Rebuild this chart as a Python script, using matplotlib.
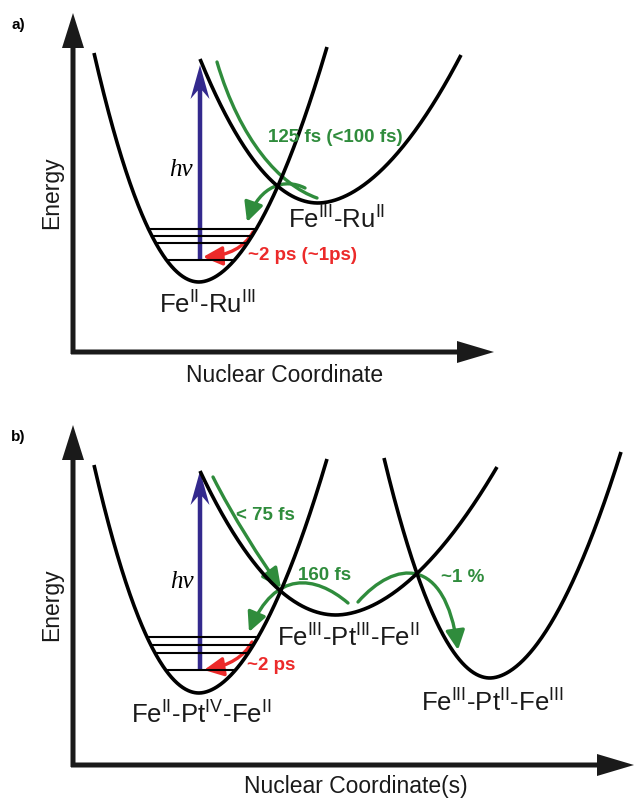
import numpy as np
import matplotlib
matplotlib.use("Agg")
import matplotlib.pyplot as plt
from matplotlib.path import Path
from matplotlib.patches import FancyArrowPatch

plt.rcParams['font.family'] = ['Liberation Sans', 'DejaVu Sans']
plt.rcParams['mathtext.fontset'] = 'custom'
plt.rcParams['mathtext.rm'] = 'Liberation Sans'
plt.rcParams['mathtext.it'] = 'Liberation Sans:italic'
plt.rcParams['mathtext.bf'] = 'Liberation Sans:bold'

GREEN = '#2f8c3c'
RED = '#ec2a2a'
BLUE = '#33298d'

# potential wells (pixel coords): vertex, left top end, right top end
wells_a_vertex = [(199, 282), (318, 203)]
wells_a_left = [(94, 53), (200, 59)]
wells_a_right = [(327, 47), (461, 55)]
levels_a = [229, 236, 243, 260]

wells_b_vertex = [(199, 693), (336, 615), (490, 678)]
wells_b_left = [(94, 465), (200, 471), (384, 458)]
wells_b_right = [(327, 459), (497, 467), (621, 452)]
levels_b = [637, 645, 653, 670]

# state labels
labels_a = [r'Fe$^{\mathrm{II}}$-Ru$^{\mathrm{III}}$', r'Fe$^{\mathrm{III}}$-Ru$^{\mathrm{II}}$']
labels_a_pos = [(207, 305), (336, 220)]
labels_b = [r'Fe$^{\mathrm{II}}$-Pt$^{\mathrm{IV}}$-Fe$^{\mathrm{II}}$',
            r'Fe$^{\mathrm{III}}$-Pt$^{\mathrm{III}}$-Fe$^{\mathrm{II}}$',
            r'Fe$^{\mathrm{III}}$-Pt$^{\mathrm{II}}$-Fe$^{\mathrm{III}}$']
labels_b_pos = [(201, 715), (348, 638), (492, 703)]

# transfer arrows: bezier control points, colour, arrowhead
paths_a = [
    ([(217, 62), (240, 140), (280, 185), (317, 198)], GREEN, False),
    ([(305, 188), (285, 178), (260, 185), (247, 222)], GREEN, True),
    ([(253, 232), (240, 255), (203, 257)], RED, True),
]
paths_b = [
    ([(213, 477), (232, 515), (262, 562), (281, 588)], GREEN, True),
    ([(348, 603), (315, 575), (275, 570), (249, 632)], GREEN, True),
    ([(358, 602), (395, 560), (445, 555), (458, 650)], GREEN, True),
    ([(252, 642), (240, 664), (204, 670)], RED, True),
]
rate_a = [('125 fs (<100 fs)', (335, 137), GREEN), ('~2 ps (~1ps)', (302, 256), RED)]
rate_b = [('< 75 fs', (265, 515), GREEN), ('160 fs', (325, 575), GREEN),
          ('~1 %', (463, 578), GREEN), ('~2 ps', (271, 665), RED)]

P_LEFT, P_RIGHT = 2.0, 1.85


def well_xy(vertex, left, right, n=150):
    xm, ym = vertex
    xl, yl = left
    xr, yr = right
    x1 = np.linspace(xl, xm, n)
    y1 = ym - (ym - yl) * ((xm - x1) / (xm - xl)) ** P_LEFT
    x2 = np.linspace(xm, xr, n)
    y2 = ym - (ym - yr) * ((x2 - xm) / (xr - xm)) ** P_RIGHT
    return np.concatenate([x1, x2]), np.concatenate([y1, y2])


def level_ends(vertex, left, right, y):
    xm, ym = vertex
    xl, yl = left
    xr, yr = right
    a = xm - (xm - xl) * ((ym - y) / (ym - yl)) ** (1 / P_LEFT)
    b = xm + (xr - xm) * ((ym - y) / (ym - yr)) ** (1 / P_RIGHT)
    return a, b


def draw_path(ax, pts, color, head):
    codes = [Path.MOVETO] + ([Path.CURVE4] * 3 if len(pts) == 4 else [Path.CURVE3] * 2)
    p = Path(pts, codes)
    if head:
        arr = FancyArrowPatch(path=p, arrowstyle='-|>,head_length=0.65,head_width=0.32',
                              mutation_scale=18, color=color, lw=2.4)
    else:
        arr = FancyArrowPatch(path=p, arrowstyle='-', color=color, lw=2.4)
    ax.add_patch(arr)


def panel(ax, origin, ytip, xtip, vertices, lefts, rights, levels, labels, label_pos,
          paths, rates, hv_top, hv_text_pos, tag, tag_pos, xlabel, xlabel_pos, ylabel_pos):
    ox, oy = origin
    ax.arrow(ox, oy + 2, 0, ytip - oy - 2, width=5, head_width=22, head_length=35,
             length_includes_head=True, color='#1a1a1a', lw=0)
    ax.arrow(ox - 2, oy, xtip - ox + 2, 0, width=5, head_width=22, head_length=37,
             length_includes_head=True, color='#1a1a1a', lw=0)
    for v, l, r in zip(vertices, lefts, rights):
        x, y = well_xy(v, l, r)
        ax.plot(x, y, color='black', lw=2.6, solid_capstyle='butt')
    for y in levels:
        a, b = level_ends(vertices[0], lefts[0], rights[0], y)
        ax.plot([a, b], [y, y], color='black', lw=1.5)
    # excitation arrow
    hx = vertices[0][0] + 1
    ax.arrow(hx, levels[-1], 0, hv_top - levels[-1], width=4.5, head_width=19,
             head_length=34, overhang=0.25, length_includes_head=True, color=BLUE, lw=0)
    ax.text(*hv_text_pos, 'h\u03bd', family='Liberation Serif', style='italic',
            fontsize=18, ha='center', va='center')
    for pts, c, head in paths:
        draw_path(ax, pts, c, head)
    for txt, pos, c in rates:
        ax.text(*pos, txt, color=c, fontsize=13.5, fontweight='bold', ha='center', va='center')
    for txt, pos in zip(labels, label_pos):
        ax.text(*pos, txt, fontsize=18.5, ha='center', va='center', color='#1a1a1a')
    ax.text(*tag_pos, tag, fontsize=11, fontweight='bold', ha='center', va='center')
    ax.text(*xlabel_pos, xlabel, fontsize=16.5, ha='center', va='center', color='#1a1a1a')
    ax.text(*ylabel_pos, 'Energy', fontsize=16.5, rotation=90, ha='center', va='center',
            color='#1a1a1a')


fig = plt.figure(figsize=(6.34, 7.98), dpi=100)
ax = fig.add_axes([0, 0, 1, 1])
ax.set_xlim(0, 634)
ax.set_ylim(798, 0)
ax.axis('off')

panel(ax, (73, 352), 13, 494, wells_a_vertex, wells_a_left, wells_a_right, levels_a,
      labels_a, labels_a_pos, paths_a, rate_a, 65, (181, 170), 'a)', (18, 25),
      'Nuclear Coordinate', (285, 375), (52, 193))
panel(ax, (73, 765), 425, 634, wells_b_vertex, wells_b_left, wells_b_right, levels_b,
      labels_b, labels_b_pos, paths_b, rate_b, 471, (182, 582), 'b)', (18, 437),
      'Nuclear Coordinate(s)', (356, 787), (52, 605))

fig.savefig('out.png', dpi=100)
